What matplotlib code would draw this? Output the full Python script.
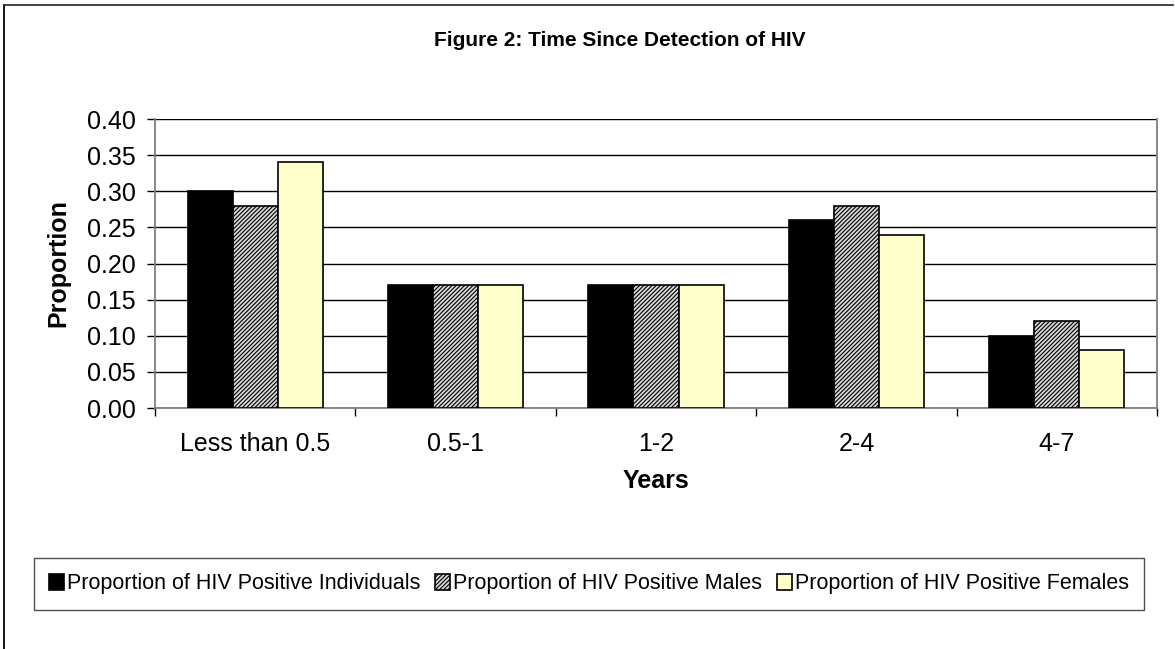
import matplotlib
matplotlib.use("Agg")
import matplotlib.pyplot as plt
import numpy as np
from matplotlib.lines import Line2D

plt.rcParams['font.family'] = ['Liberation Sans', 'DejaVu Sans']
plt.rcParams['hatch.linewidth'] = 0.8
plt.rcParams['hatch.color'] = '#333333'

categories = ["Less than 0.5", "0.5-1", "1-2", "2-4", "4-7"]
individuals = [0.30, 0.17, 0.17, 0.26, 0.10]
males = [0.28, 0.17, 0.17, 0.28, 0.12]
females = [0.34, 0.17, 0.17, 0.24, 0.08]
series_names = ["Proportion of HIV Positive Individuals",
                "Proportion of HIV Positive Males",
                "Proportion of HIV Positive Females"]
yticks = [0.00, 0.05, 0.10, 0.15, 0.20, 0.25, 0.30, 0.35, 0.40]

W, H = 1175, 649
fig = plt.figure(figsize=(W / 100, H / 100), dpi=100)
# outer border (top and left visible)
fig.add_artist(Line2D([4 / W, 4 / W], [0, 1 - 5 / H], transform=fig.transFigure,
                      color='black', linewidth=1.3))
fig.add_artist(Line2D([4 / W, 1173 / W], [1 - 5 / H, 1 - 5 / H], transform=fig.transFigure,
                      color='#333333', linewidth=1.3))

ax = fig.add_axes([155 / W, 1 - 408 / H, (1157 - 155) / W, (408 - 119) / H])

x = np.arange(len(categories))
w = 0.225
b1 = ax.bar(x - w, individuals, w, color='black', edgecolor='black', linewidth=1.2,
            label=series_names[0], zorder=3)
b2 = ax.bar(x, males, w, color='#d8d8d8', edgecolor='black', hatch='////////', linewidth=1.2,
            label=series_names[1], zorder=3)
b3 = ax.bar(x + w, females, w, color='#FFFFCC', edgecolor='black', linewidth=1.2,
            label=series_names[2], zorder=3)

ax.set_xlim(-0.5, len(categories) - 0.5)
ax.set_ylim(0, 0.40)
ax.set_yticks(yticks)
ax.set_yticklabels([f"{v:.2f}" for v in yticks], fontsize=18)
ax.yaxis.grid(True, color='black', linewidth=1.0, zorder=0)
ax.set_axisbelow(True)

ax.set_xticks(x)
ax.set_xticklabels(categories, fontsize=18)
ax.tick_params(axis='x', length=0, pad=17)
ax.set_xticks(np.arange(len(categories) + 1) - 0.5, minor=True)
ax.tick_params(axis='x', which='minor', length=6, width=1, color='black', direction='out')
ax.tick_params(axis='y', length=6, width=1, direction='out', pad=8)

ax.spines['top'].set_visible(False)
for s in ['right', 'left', 'bottom']:
    ax.spines[s].set_color('#808080')
    ax.spines[s].set_linewidth(1.3)

ax.set_xlabel("Years", fontsize=18, fontweight='bold', labelpad=10)
ax.set_ylabel("Proportion", fontsize=18, fontweight='bold', labelpad=12)

fig.text(620 / W, 1 - 40 / H, "Figure 2: Time Since Detection of HIV", ha='center',
         va='center', fontsize=15, fontweight='bold')

leg = fig.legend(handles=[b1, b2, b3], loc='center', bbox_to_anchor=(589 / W, 1 - 584 / H),
                 ncol=3, fontsize=15.5, frameon=True, fancybox=False, edgecolor='#222222',
                 handlelength=0.7, handleheight=0.7, handletextpad=0.12, columnspacing=0.7,
                 borderpad=0.7, borderaxespad=0)
leg.get_frame().set_linewidth(1.0)

fig.savefig("out.png", dpi=100)
